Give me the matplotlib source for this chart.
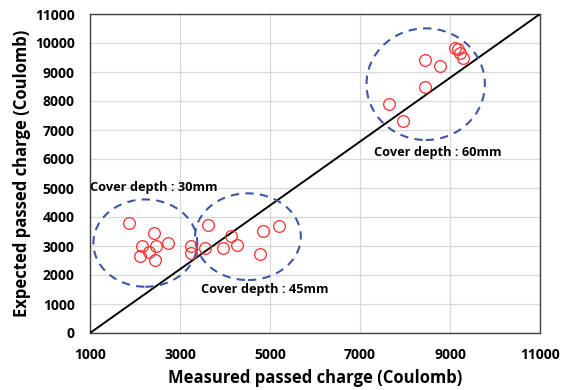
import matplotlib
matplotlib.use("Agg")
import matplotlib.pyplot as plt
from matplotlib.patches import Ellipse

plt.rcParams['font.family'] = ['Open Sans', 'DejaVu Sans']

measured = [1870, 2430, 2150, 2470, 2740, 2310, 2100, 2440, 3240, 3240,
            3630, 3560, 3960, 4130, 4260, 4850, 5210, 4780,
            8440, 8780, 8440, 7650, 7950, 9100, 9180, 9230, 9280]
expected = [3780, 3440, 3000, 3010, 3090, 2800, 2660, 2520, 3010, 2750,
            3720, 2940, 2920, 3350, 3030, 3520, 3690, 2710,
            9410, 9220, 8490, 7900, 7320, 9830, 9780, 9650, 9480]

line_x = [1000, 11000]
line_y = [0, 11000]

groups = ["Cover depth : 30mm", "Cover depth : 45mm", "Cover depth : 60mm"]
ell_cx = [2230, 4510, 8460]
ell_cy = [3100, 3320, 8580]
ell_w = [2310, 2350, 2630]
ell_h = [3010, 2990, 3850]
label_x = [1000, 4880, 8730]
label_y = [5020, 1510, 6220]

x_ticks = [1000, 3000, 5000, 7000, 9000, 11000]
y_ticks = list(range(0, 11001, 1000))

fig = plt.figure(figsize=(5.69, 3.90), dpi=100)
ax = fig.add_axes([90/569, 1 - 333/390, 450/569, 319/390])

ax.set_xlim(1000, 11000)
ax.set_ylim(0, 11000)
ax.set_xticks(x_ticks)
ax.set_yticks(y_ticks)
ax.grid(True, color='#d9d9d9', linewidth=0.9)
ax.set_axisbelow(True)
ax.tick_params(axis='x', length=0, labelsize=10, pad=11)
ax.tick_params(axis='y', length=0, labelsize=10, pad=11)
for lab in ax.get_xticklabels() + ax.get_yticklabels():
    lab.set_fontweight('bold')
for s in ax.spines.values():
    s.set_color('#404040')
    s.set_linewidth(1.0)

ax.plot(line_x, line_y, color='black', linewidth=1.4, zorder=3)

for cx, cy, w, h in zip(ell_cx, ell_cy, ell_w, ell_h):
    ax.add_patch(Ellipse((cx, cy), w, h, fill=False, edgecolor='#3f56a6',
                         linewidth=1.5, linestyle=(0, (4, 3)), zorder=4))

ax.plot(measured, expected, linestyle='none', marker='o', markersize=8.4,
        markerfacecolor='none', markeredgecolor='#ff2a2a', markeredgewidth=0.9,
        zorder=5)

for t, x, y in zip(groups, label_x, label_y):
    ha = 'left' if t.endswith('30mm') else 'center'
    ax.text(x, y, t, fontsize=9.2, fontweight='bold', ha=ha, va='center',
            zorder=6)

ax.set_xlabel("Measured passed charge (Coulomb)", fontsize=12,
              fontweight='bold', labelpad=5)
ax.set_ylabel("Expected passed charge (Coulomb)", fontsize=12,
              fontweight='bold', labelpad=3)

fig.savefig("out.png", dpi=100)
